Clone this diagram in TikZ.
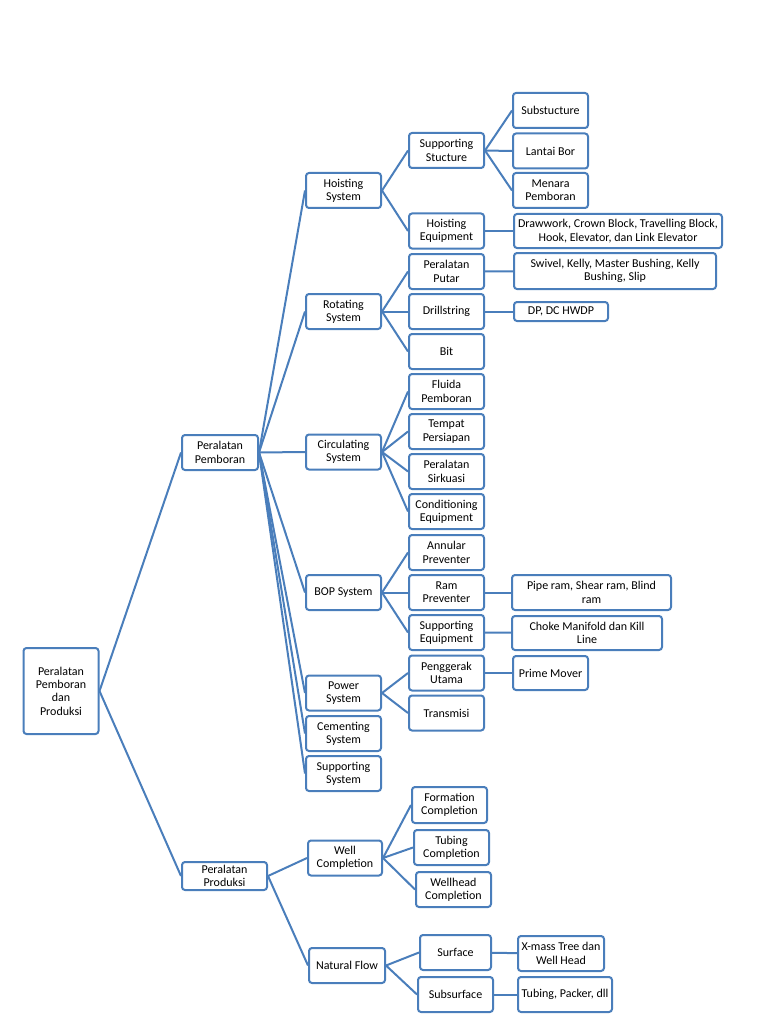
\documentclass[tikz,border=0pt]{standalone}
\usepackage{fontspec}
\setmainfont{Carlito}
\definecolor{boxblue}{RGB}{74,126,187}

\begin{document}
\begin{tikzpicture}[x=1pt, y=-1pt,
    box/.style={draw=boxblue, line width=2pt, rounded corners=3pt, fill=white, align=center, inner sep=1pt,
        font=\fontsize{12}{13.3}\selectfont, minimum width=75pt, minimum height=35pt},
    link/.style={draw=boxblue, line width=2pt}]
    \useasboundingbox (0, 0) rectangle (768, 1024);

    % root and the two main branches
    \node[box, minimum height=86pt] (root) at (61, 691) {Peralatan\\Pemboran\\dan\\Produksi};
    \node[box, minimum width=76pt] (pemb) at (220, 452.5) {Peralatan\\Pemboran};
    \node[box, minimum width=85pt, minimum height=28pt] (prod) at (224.5, 876) {Peralatan\\Produksi};

    % systems
    \node[box] (hoist) at (343.5, 190.5) {Hoisting\\System};
    \node[box] (rot) at (343.5, 311.5) {Rotating\\System};
    \node[box] (circ) at (343.5, 452) {Circulating\\System};
    \node[box] (bop) at (343.5, 592.5) {BOP System};
    \node[box] (power) at (343.5, 693) {Power\\System};
    \node[box] (cement) at (343.5, 733.5) {Cementing\\System};
    \node[box] (suppsys) at (343.5, 773.5) {Supporting\\System};
    \node[box, minimum width=74pt] (well) at (345, 858) {Well\\Completion};
    \node[box, minimum width=76pt] (natflow) at (347, 965.5) {Natural Flow};

    % components
    \node[box] (suppstruc) at (446.5, 150.5) {Supporting\\Stucture};
    \node[box] (hoisteq) at (446.5, 231) {Hoisting\\Equipment};
    \node[box] (putar) at (446.5, 271.5) {Peralatan\\Putar};
    \node[box] (drill) at (446.5, 311.5) {Drillstring};
    \node[box] (bit) at (446.5, 351.5) {Bit};
    \node[box] (fluida) at (446.5, 391.5) {Fluida\\Pemboran};
    \node[box] (tempat) at (446.5, 431.5) {Tempat\\Persiapan};
    \node[box] (sirk) at (446.5, 471.5) {Peralatan\\Sirkuasi};
    \node[box] (cond) at (446.5, 511.5) {Conditioning\\Equipment};
    \node[box] (annular) at (446.5, 552.5) {Annular\\Preventer};
    \node[box] (ram) at (446.5, 592.5) {Ram\\Preventer};
    \node[box] (suppeq) at (446.5, 632.5) {Supporting\\Equipment};
    \node[box] (gerak) at (446.5, 673) {Penggerak\\Utama};
    \node[box] (trans) at (446.5, 713) {Transmisi};
    \node[box, minimum height=36pt] (formation) at (449.5, 805) {Formation\\Completion};
    \node[box] (tubingc) at (451.5, 847.5) {Tubing\\Completion};
    \node[box] (wellhead) at (453.5, 889.5) {Wellhead\\Completion};
    \node[box, minimum width=71pt] (surface) at (455.5, 952.5) {Surface};
    \node[box] (subsurface) at (455.5, 994.5) {Subsurface};

    % details
    \node[box] (substr) at (550.5, 110.5) {Substucture};
    \node[box] (lantai) at (550.5, 151) {Lantai Bor};
    \node[box] (menara) at (550.5, 190.5) {Menara\\Pemboran};
    \node[box, minimum width=208pt, minimum height=34pt] (drawwork) at (618, 231) {Drawwork, Crown Block, Travelling Block,\\Hook, Elevator, dan Link Elevator};
    \node[box, minimum width=202pt, minimum height=36pt] (swivel) at (615, 271) {Swivel, Kelly, Master Bushing, Kelly\\Bushing, Slip};
    \node[box, minimum width=94pt, minimum height=19pt] (dp) at (561, 311.5) {DP, DC HWDP};
    \node[box, minimum width=159pt] (piperam) at (591.5, 592.5) {Pipe ram, Shear ram, Blind\\ram};
    \node[box, minimum width=150pt, minimum height=34pt] (choke) at (587, 633) {Choke Manifold dan Kill\\Line};
    \node[box, minimum height=34pt] (prime) at (550.5, 673) {Prime Mover};
    \node[box, minimum width=86pt] (xmass) at (561, 953.5) {X-mass Tree dan\\Well Head};
    \node[box, minimum width=94pt] (tubingp) at (565, 994.5) {Tubing, Packer, dll};

    \draw[link] (root.east) -- (pemb.west);
    \draw[link] (root.east) -- (prod.west);

    \foreach \s in {hoist, rot, circ, bop, power, cement, suppsys}
        \draw[link] (pemb.east) -- (\s.west);
    \foreach \s in {well, natflow}
        \draw[link] (prod.east) -- (\s.west);

    \foreach \s in {suppstruc, hoisteq}
        \draw[link] (hoist.east) -- (\s.west);
    \foreach \s in {putar, drill, bit}
        \draw[link] (rot.east) -- (\s.west);
    \foreach \s in {fluida, tempat, sirk, cond}
        \draw[link] (circ.east) -- (\s.west);
    \foreach \s in {annular, ram, suppeq}
        \draw[link] (bop.east) -- (\s.west);
    \foreach \s in {gerak, trans}
        \draw[link] (power.east) -- (\s.west);
    \foreach \s in {formation, tubingc, wellhead}
        \draw[link] (well.east) -- (\s.west);
    \foreach \s in {surface, subsurface}
        \draw[link] (natflow.east) -- (\s.west);

    \foreach \s in {substr, lantai, menara}
        \draw[link] (suppstruc.east) -- (\s.west);
    \draw[link] (hoisteq) -- (drawwork);
    \draw[link] (putar) -- (swivel);
    \draw[link] (drill) -- (dp);
    \draw[link] (ram) -- (piperam);
    \draw[link] (suppeq) -- (choke);
    \draw[link] (gerak) -- (prime);
    \draw[link] (surface) -- (xmass);
    \draw[link] (subsurface) -- (tubingp);

\end{tikzpicture}
\end{document}
